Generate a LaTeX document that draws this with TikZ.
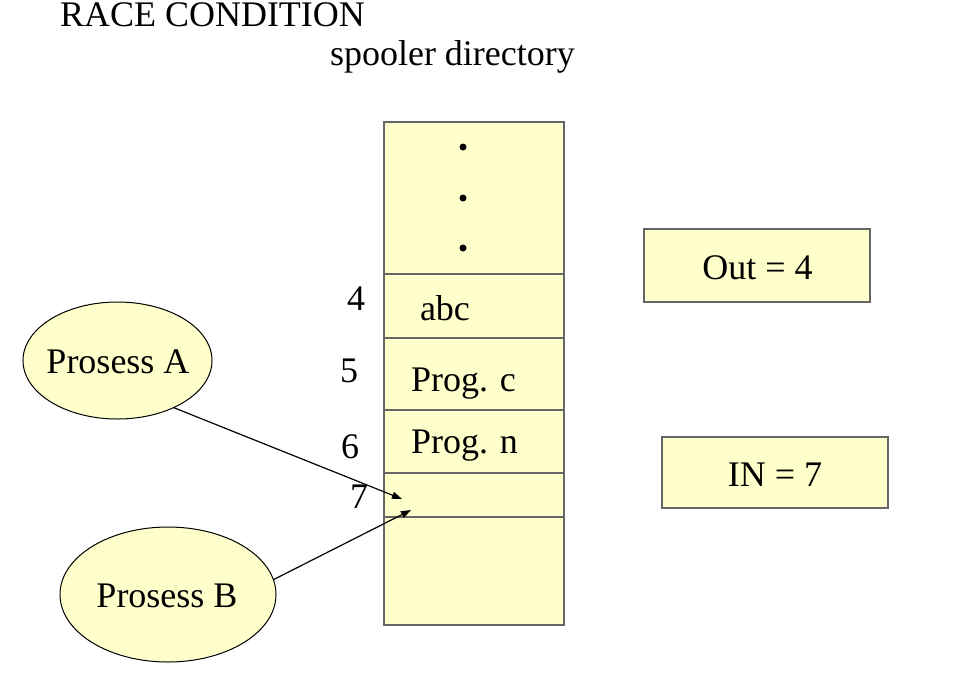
\documentclass[tikz,border=0pt]{standalone}
\usepackage{fontspec}
\setmainfont{Liberation Serif}
\usetikzlibrary{shapes.geometric,arrows.meta}
\definecolor{memo}{HTML}{FFFFCC}
\definecolor{edgegray}{HTML}{666666}
\begin{document}
\begin{tikzpicture}[x=1pt,y=-1pt,
  every node/.style={font=\fontsize{36}{43}\selectfont, inner sep=0pt, outer sep=0pt},
  txt/.style={anchor=base west},
  ctr/.style={anchor=base},
  cell/.style={rectangle, draw=edgegray, line width=1.5pt, fill=memo, minimum width=180pt, anchor=north west},
  proc/.style={ellipse, draw=black, line width=1pt, fill=memo},
  reg/.style={rectangle, draw=edgegray, line width=1.5pt, fill=memo},
  conn/.style={line width=1.2pt, -{Triangle[length=10pt,width=7pt]}}]
\useasboundingbox (0,0) rectangle (965,686);
\node[txt] (title) at (60,26.5) {RACE CONDITION};
\node[txt] (sub) at (330,65) {spooler directory};
% column
\node[cell, minimum height=152pt] (c0) at (384,122) {};
\node[cell, minimum height=64pt] (c4) at (384,274) {};
\node[cell, minimum height=72pt] (c5) at (384,338) {};
\node[cell, minimum height=63pt] (c6) at (384,410) {};
\node[cell, minimum height=44pt] (c7) at (384,473) {};
\node[cell, minimum height=108pt] (c8) at (384,517) {};
\fill (463,147) circle (3.5pt);
\fill (463,198) circle (3.5pt);
\fill (463,248) circle (3.5pt);
\node[txt] (t4) at (420,320) {abc};
\node[txt] (t5) at (411,391) {Prog. c};
\node[txt] (t6) at (411,453) {Prog. n};
\node[txt] (n4) at (347,310) {4};
\node[txt] (n5) at (340,382) {5};
\node[txt] (n6) at (341,458) {6};
\node[txt] (n7) at (350,508) {7};
% registers
\node[reg, minimum width=226pt, minimum height=73pt] (out) at (757,265.5) {};
\node[ctr] (outt) at (757.5,279) {Out = 4};
\node[reg, minimum width=226pt, minimum height=71pt] (in) at (775,472.5) {};
\node[ctr] (int) at (775,486) {IN = 7};
% processes
\node[proc, minimum width=189pt, minimum height=117pt] (A) at (117.5,360.5) {};
\node[ctr] (At) at (118,373) {Prosess A};
\node[proc, minimum width=216pt, minimum height=135pt] (B) at (168,594.5) {};
\node[ctr] (Bt) at (167,607) {Prosess B};
\coordinate (tA) at (402,499);
\coordinate (tB) at (411,510);
\draw[conn] (A.-40) -- (tA);
\draw[conn] (B.8) -- (tB);
\end{tikzpicture}
\end{document}
